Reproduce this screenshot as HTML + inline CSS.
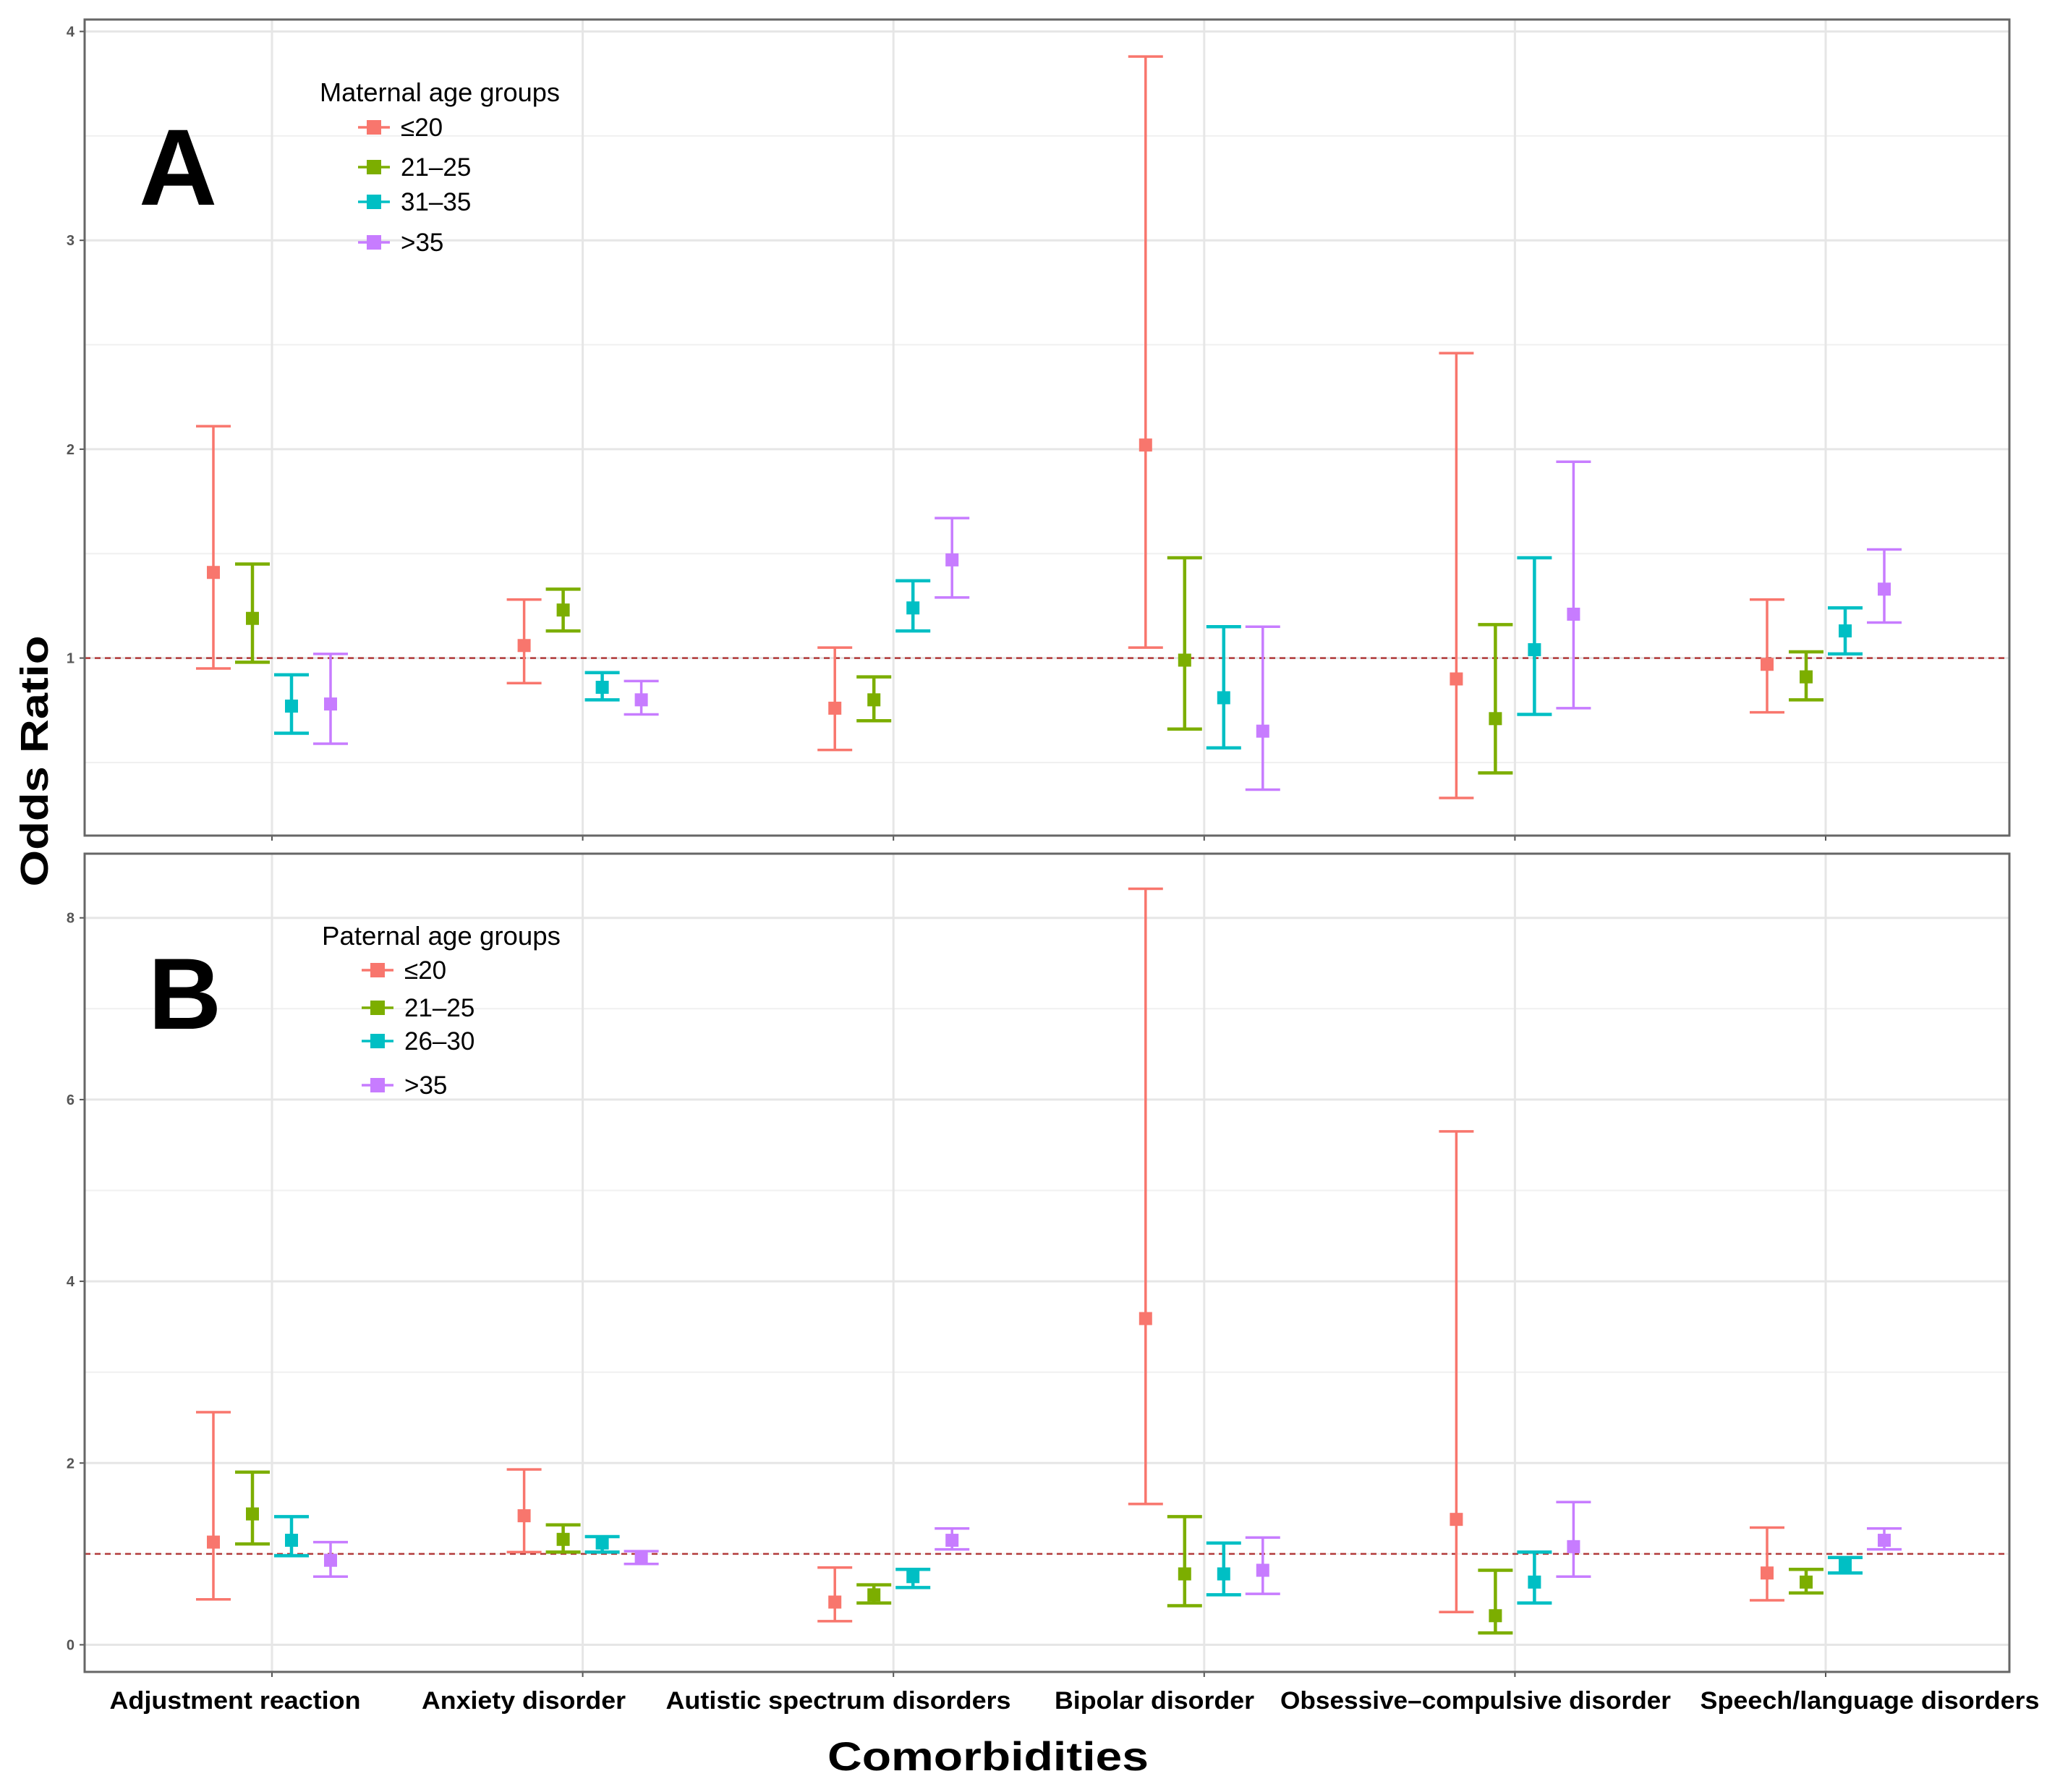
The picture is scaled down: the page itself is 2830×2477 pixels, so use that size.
<!DOCTYPE html>
<html><head><meta charset="utf-8"><style>
html,body{margin:0;padding:0;background:#fff}
svg{display:block}
text{font-family:"Liberation Sans",sans-serif}
</style></head><body>
<svg id="chart" width="2830" height="2477" viewBox="0 0 2830 2477" xmlns="http://www.w3.org/2000/svg">
<rect width="2830" height="2477" fill="#fff"/>
<g id="panelA"></g>
<g id="panelB"></g>
<g id="xlabels"></g>
<text x="1366" y="2447" font-size="56" font-weight="bold" text-anchor="middle" textLength="444" lengthAdjust="spacingAndGlyphs">Comorbidities</text>
<text transform="translate(66,1052) rotate(-90)" font-size="54" font-weight="bold" text-anchor="middle" textLength="347" lengthAdjust="spacingAndGlyphs">Odds Ratio</text>
<text x="192" y="283" font-size="150" font-weight="bold">A</text>
<text x="205" y="1422" font-size="140" font-weight="bold">B</text>
</svg>
<script>
const categories = ["Adjustment reaction","Anxiety disorder","Autistic spectrum disorders","Bipolar disorder","Obsessive\u2013compulsive disorder","Speech/language disorders"];
const groupsA = ["\u226420","21\u201325","31\u201335",">35"];
const groupsB = ["\u226420","21\u201325","26\u201330",">35"];
const colors = ["#F8766D","#7CAE00","#00BFC4","#C77CFF"];
// Panel A (maternal) : per category, per group
const A_est = [[1.41,1.19,0.77,0.78],[1.06,1.23,0.86,0.80],[0.76,0.80,1.24,1.47],[2.02,0.99,0.81,0.65],[0.90,0.71,1.04,1.21],[0.97,0.91,1.13,1.33]];
const A_lo  = [[0.95,0.98,0.64,0.59],[0.88,1.13,0.80,0.73],[0.56,0.70,1.13,1.29],[1.05,0.66,0.57,0.37],[0.33,0.45,0.73,0.76],[0.74,0.80,1.02,1.17]];
const A_hi  = [[2.11,1.45,0.92,1.02],[1.28,1.33,0.93,0.89],[1.05,0.91,1.37,1.67],[3.88,1.48,1.15,1.15],[2.46,1.16,1.48,1.94],[1.28,1.03,1.24,1.52]];
// Panel B (paternal)
const B_est = [[1.13,1.44,1.15,0.93],[1.42,1.16,1.12,0.96],[0.47,0.55,0.75,1.15],[3.59,0.78,0.78,0.82],[1.38,0.32,0.69,1.08],[0.79,0.69,0.88,1.15]];
const B_lo  = [[0.50,1.11,0.98,0.75],[1.02,1.02,1.02,0.89],[0.26,0.46,0.63,1.05],[1.55,0.43,0.55,0.56],[0.36,0.13,0.46,0.75],[0.49,0.57,0.79,1.05]];
const B_hi  = [[2.56,1.90,1.41,1.13],[1.93,1.32,1.19,1.03],[0.85,0.66,0.83,1.28],[8.32,1.41,1.12,1.18],[5.65,0.82,1.02,1.57],[1.29,0.83,0.96,1.28]];
const A_ticks = [1,2,3,4];
const A_minor = [0.5,1.5,2.5,3.5];
const B_ticks = [0,2,4,6,8];
const B_minor = [1,3,5,7];

const NS="http://www.w3.org/2000/svg";
function mk(parent,tag,attrs){const e=document.createElementNS(NS,tag);for(const k in attrs)e.setAttribute(k,attrs[k]);parent.appendChild(e);return e;}
const L=117,R=2778;
function xCat(i){return 376+i*429.6;}
const dodge=[-81,-27,27,81];

function panel(g,top,bottom,yScale,ticks,minor,est,lo,hi,legendTitle,groups,leg){
  mk(g,'rect',{x:L,y:top,width:R-L,height:bottom-top,fill:'#fff'});
  minor.forEach(v=>{const y=yScale(v);if(y>top&&y<bottom){const l=mk(g,'line',{x1:L,x2:R,y1:y,y2:y,stroke:'#f0f0f0','stroke-width':2});
    
    }});
  ticks.forEach(v=>{const y=yScale(v);
    const l=mk(g,'line',{x1:L,x2:R,y1:y,y2:y,stroke:'#e6e6e6','stroke-width':3});
    
    
    mk(g,'line',{x1:L-7,x2:L,y1:y,y2:y,stroke:'#555','stroke-width':2});
    const t=mk(g,'text',{x:L-14,y:y+7,'font-size':20,'font-weight':'bold',fill:'#555','text-anchor':'end'});t.textContent=v;
    
    });
  categories.forEach((c,i)=>{const x=xCat(i);
    const l=mk(g,'line',{x1:x,x2:x,y1:top,y2:bottom,stroke:'#e6e6e6','stroke-width':3});
    
    
    mk(g,'line',{x1:x,x2:x,y1:bottom,y2:bottom+7,stroke:'#555','stroke-width':2});});
  const ref=mk(g,'line',{x1:L,x2:R,y1:yScale(1),y2:yScale(1),stroke:'#b23a3a','stroke-width':2.5,'stroke-dasharray':'8 6'});
  
  
  categories.forEach((c,i)=>{groups.forEach((gname,j)=>{
    const x=xCat(i)+dodge[j], col=colors[j];
    const eg=mk(g,'g',{});
    
    
    const y1=yScale(lo[i][j]),y2=yScale(hi[i][j]),yp=yScale(est[i][j]);
    const sw=(j==0||j==3)?3.5:4.5;
    mk(eg,'line',{x1:x,x2:x,y1:y1,y2:y2,stroke:col,'stroke-width':sw});
    mk(eg,'line',{x1:x-24,x2:x+24,y1:y1,y2:y1,stroke:col,'stroke-width':sw});
    mk(eg,'line',{x1:x-24,x2:x+24,y1:y2,y2:y2,stroke:col,'stroke-width':sw});
    const p=mk(eg,'rect',{x:x-9,y:yp-9,width:18,height:18,fill:col});
    
    
  });});
  const fr=mk(g,'rect',{x:L,y:top,width:R-L,height:bottom-top,fill:'none',stroke:'#666','stroke-width':3});
  
  
  const lg=mk(g,'g',{});
  
  
  const tt=mk(lg,'text',{x:leg.tx,y:leg.ty,'font-size':36,textLength:leg.tw,lengthAdjust:'spacingAndGlyphs'});tt.textContent=legendTitle;
  
  
  groups.forEach((gname,j)=>{const y=leg.ys[j];
    const e=mk(lg,'g',{});
    
    
    mk(e,'line',{x1:leg.mx-22,x2:leg.mx+22,y1:y,y2:y,stroke:colors[j],'stroke-width':3.5});
    mk(e,'rect',{x:leg.mx-10,y:y-10,width:20,height:20,fill:colors[j]});
    const t=mk(e,'text',{x:leg.mx+37,y:y+12,'font-size':35});t.textContent=gname;});
}
const yA=v=>909.6-(v-1)*288.7;
const yB=v=>2273.5-v*125.6;
panel(document.getElementById('panelA'),27,1155,yA,A_ticks,A_minor,A_est,A_lo,A_hi,"Maternal age groups",groupsA,{tx:442,ty:140,tw:332,mx:517,ys:[176,231,279,335]});
panel(document.getElementById('panelB'),1180,2311,yB,B_ticks,B_minor,B_est,B_lo,B_hi,"Paternal age groups",groupsB,{tx:445,ty:1306,tw:330,mx:522,ys:[1341,1393,1439,1500]});

const labelX=[325,724,1159,1596,2040,2585];
const labelW=[347,282,477,276,540,469];
const xl=document.getElementById('xlabels');
categories.forEach((c,i)=>{const t=mk(xl,'text',{x:labelX[i],y:2362,'font-size':34,'font-weight':'bold','text-anchor':'middle',textLength:labelW[i],lengthAdjust:'spacingAndGlyphs'});
  t.textContent=c;
  
  });
</script>
</body></html>
